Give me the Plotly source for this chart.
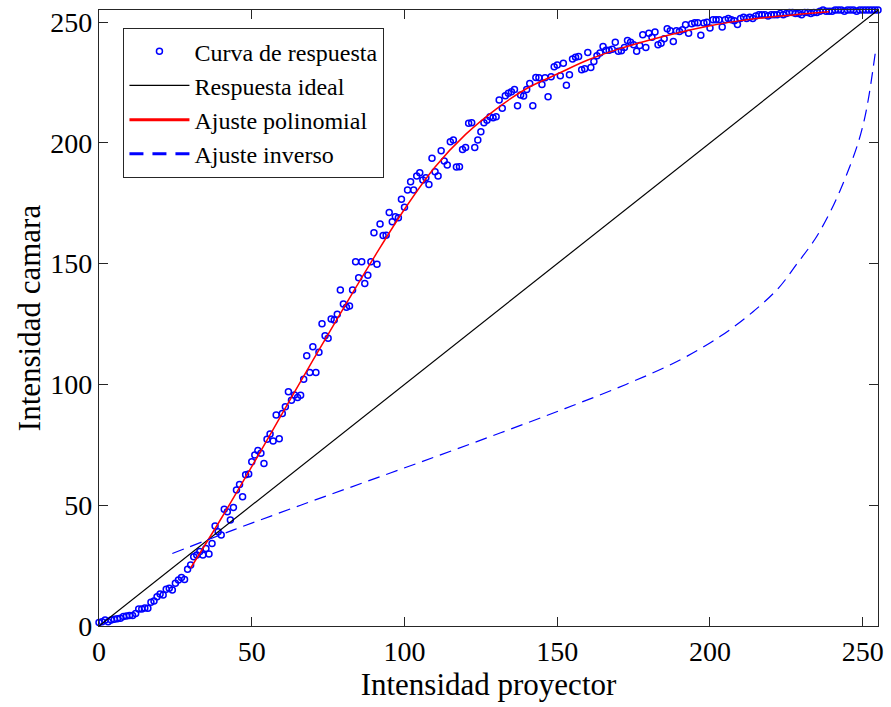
import plotly.graph_objects as go

# ---------------- data ----------------
proj_vals = list(range(256))
cam_vals = [
    1.5, 1.8, 2.5, 1.8, 2.5, 2.8, 3.0, 3.2, 3.9, 4.1,
    4.3, 4.3, 5.2, 7.0, 7.0, 7.5, 7.3, 9.8, 10.3, 12.1,
    13.2, 12.8, 15.2, 15.6, 14.9, 17.7, 19.0, 20.1, 19.3, 23.5,
    25.2, 28.7, 29.4, 30.8, 29.4, 32.1, 29.8, 34.2, 41.4, 39.0,
    37.7, 48.3, 47.3, 43.9, 49.1, 56.3, 58.6, 53.5, 62.6, 62.9,
    68.0, 70.8, 72.6, 71.5, 67.3, 77.3, 79.5, 76.6, 87.3, 77.5,
    88.0, 90.8, 97.0, 93.5, 95.6, 94.6, 95.5, 102.1, 111.9, 104.9,
    115.6, 104.9, 113.3, 125.1, 120.2, 119.1, 127.1, 126.7, 129.1, 139.1,
    133.3, 131.9, 132.5, 139.1, 150.8, 144.2, 150.8, 141.8, 145.2, 150.8,
    162.8, 149.7, 166.4, 161.7, 161.8, 171.2, 167.3, 169.4, 169.0, 176.7,
    173.3, 180.5, 183.9, 180.5, 186.3, 187.6, 184.6, 185.6, 182.8, 193.6,
    188.0, 186.3, 196.7, 192.5, 190.8, 200.5, 201.2, 190.0, 190.1, 197.3,
    198.1, 208.1, 208.3, 198.1, 201.2, 204.6, 208.3, 209.4, 210.8, 210.4,
    210.8, 217.7, 214.3, 219.5, 220.5, 221.2, 222.1, 215.4, 219.8, 219.4,
    222.1, 224.6, 215.4, 227.1, 227.0, 224.2, 227.0, 219.1, 227.4, 231.5,
    232.2, 227.8, 233.0, 223.8, 228.2, 234.7, 235.4, 235.8, 230.3, 230.7,
    237.4, 231.2, 233.7, 236.1, 237.2, 239.9, 238.3, 238.3, 238.8, 241.6,
    237.9, 238.1, 239.5, 242.4, 241.6, 240.6, 237.9, 240.3, 244.8, 239.5,
    245.4, 243.7, 245.9, 240.6, 241.2, 243.1, 247.2, 246.4, 242.0, 246.4,
    246.1, 246.8, 248.9, 245.4, 249.3, 249.7, 249.7, 244.5, 249.6, 249.9,
    247.5, 251.0, 251.0, 251.0, 248.0, 251.0, 251.5, 251.0, 250.5, 249.0,
    251.5, 252.0, 251.5, 252.0, 251.5, 252.5, 253.0, 253.0, 253.0, 252.5,
    253.0, 253.0, 253.0, 253.5, 253.0, 253.5, 254.0, 254.0, 253.5, 253.5,
    253.0, 254.0, 254.0, 253.5, 254.0, 254.0, 254.5, 255.0, 254.5, 254.5,
    254.5, 255.0, 255.0, 255.0, 254.5, 255.0, 255.0, 255.0, 254.5, 255.0,
    255.0, 255.0, 255.0, 255.0, 255.0, 255.0,
]

ideal_x = [0, 255]
ideal_y = [0, 255]

poly_x = [30, 40, 50, 60, 70, 80, 90, 100, 110, 120, 130, 140, 150, 160,
          170, 180, 190, 200, 210, 220, 230, 239]
poly_y = [24, 44.5, 66, 88, 110, 131.5, 152.5, 172.5, 190, 203.5, 214, 222.5,
          228.5, 234.3, 238.8, 242.5, 245.7, 248.5, 250.6, 252.1, 253.3, 254.3]

# inverse fit = polynomial fit mirrored about the diagonal
inv_x = poly_y
inv_y = poly_x

x_ticks = [0, 50, 100, 150, 200, 250]
y_ticks = [0, 50, 100, 150, 200, 250]

labels = ["Curva de respuesta", "Respuesta ideal", "Ajuste polinomial", "Ajuste inverso"]

FONT = "Liberation Serif"
AX = "#262626"

fig = go.Figure()
fig.add_trace(go.Scatter(
    x=proj_vals, y=cam_vals, mode="markers", name=labels[0],
    marker=dict(symbol="circle-open", size=6, color="#0000FF", line=dict(width=1.5, color="#0000FF")),
    cliponaxis=False,
))
fig.add_trace(go.Scatter(
    x=ideal_x, y=ideal_y, mode="lines", name=labels[1],
    line=dict(color="black", width=1.2), cliponaxis=False,
))
fig.add_trace(go.Scatter(
    x=poly_x, y=poly_y, mode="lines", name=labels[2], showlegend=False,
    line=dict(color="#FF0000", width=1.5, shape="spline"), cliponaxis=False,
))
fig.add_trace(go.Scatter(
    x=inv_x, y=inv_y, mode="lines", name=labels[3], showlegend=False,
    line=dict(color="#0000FF", width=1.2, shape="spline", dash="12px,7px"), cliponaxis=False,
))
# legend samples
fig.add_trace(go.Scatter(x=[None], y=[None], mode="lines", name=labels[2],
                         line=dict(color="#FF0000", width=3)))
fig.add_trace(go.Scatter(x=[None], y=[None], mode="lines", name=labels[3],
                         line=dict(color="#0000FF", width=3, dash="14px,9px")))

axis_common = dict(
    showline=True, linecolor=AX, linewidth=1.3, mirror="ticks",
    ticks="inside", ticklen=9, tickwidth=1.3, tickcolor=AX,
    showgrid=False, zeroline=False,
    tickfont=dict(family=FONT, size=28, color="black"),
)

fig.update_layout(
    width=891, height=707,
    margin=dict(l=99, r=7, t=10, b=81),
    paper_bgcolor="white", plot_bgcolor="white",
    font=dict(family=FONT, color="black"),
    xaxis=dict(range=[0, 255], tickvals=x_ticks,
               title=dict(text="Intensidad proyector", font=dict(family=FONT, size=31), standoff=6),
               **axis_common),
    yaxis=dict(range=[0, 255], tickvals=y_ticks,
               title=dict(text="Intensidad camara", font=dict(family=FONT, size=31), standoff=0),
               **axis_common),
    legend=dict(x=0.031, y=0.971, xanchor="left", yanchor="top",
                bgcolor="white", bordercolor=AX, borderwidth=1.3,
                font=dict(family=FONT, size=24, color="black"),
                itemwidth=60, tracegroupgap=0),
    showlegend=True,
)

fig.write_html("out.html")
